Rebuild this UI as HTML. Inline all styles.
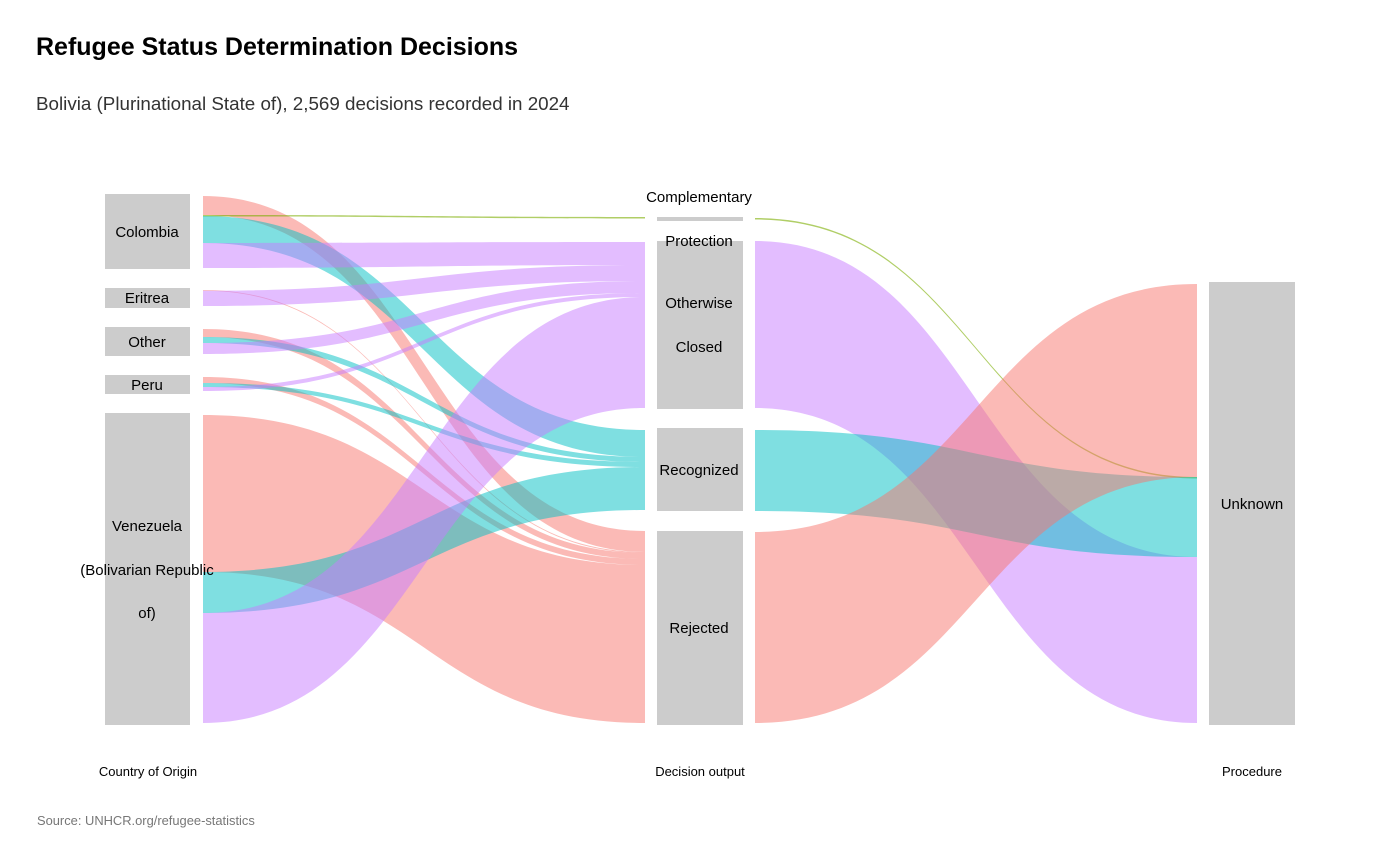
<!DOCTYPE html>
<html><head><style>
body{margin:0;background:#fff;}
svg{display:block;font-family:"Liberation Sans",sans-serif;}
</style></head><body>
<svg width="1400" height="865" viewBox="0 0 1400 865">
<text x="36" y="55" font-size="25" font-weight="bold" fill="#000">Refugee Status Determination Decisions</text>
<text x="36" y="110" font-size="18.8" fill="#333">Bolivia (Plurinational State of), 2,569 decisions recorded in 2024</text>
<g fill="#ccc">
<rect x="105" y="194" width="85" height="75"/>
<rect x="105" y="288" width="85" height="20"/>
<rect x="105" y="327" width="85" height="29"/>
<rect x="105" y="375" width="85" height="19"/>
<rect x="105" y="413" width="85" height="312"/>
<rect x="657" y="217" width="86" height="4"/>
<rect x="657" y="241" width="86" height="168"/>
<rect x="657" y="428" width="86" height="83"/>
<rect x="657" y="531" width="86" height="194"/>
<rect x="1209" y="282" width="86" height="443"/>
</g>
<g>
<path d="M203,196C424,196 424,531 645,531L645,552C424,552 424,215 203,215Z" fill="rgba(248,118,109,0.5)"/>
<path d="M203,215C424,215 424,217 645,217L645,218.5C424,218.5 424,216.5 203,216.5Z" fill="rgba(124,174,0,0.6)"/>
<path d="M203,216C424,216 424,430 645,430L645,457C424,457 424,243 203,243Z" fill="rgba(0,191,196,0.5)"/>
<path d="M203,243C424,243 424,242 645,242L645,265C424,265 424,268 203,268Z" fill="rgba(199,124,255,0.5)"/>
<path d="M203,290C424,290 424,552 645,552L645,553C424,553 424,290.8 203,290.8Z" fill="rgba(248,118,109,0.5)"/>
<path d="M203,290.8C424,290.8 424,265 645,265L645,281C424,281 424,306 203,306Z" fill="rgba(199,124,255,0.5)"/>
<path d="M203,329C424,329 424,553 645,553L645,559C424,559 424,337 203,337Z" fill="rgba(248,118,109,0.5)"/>
<path d="M203,337C424,337 424,457 645,457L645,462C424,462 424,343 203,343Z" fill="rgba(0,191,196,0.5)"/>
<path d="M203,343C424,343 424,281 645,281L645,293C424,293 424,354 203,354Z" fill="rgba(199,124,255,0.5)"/>
<path d="M203,377C424,377 424,559 645,559L645,565C424,565 424,383 203,383Z" fill="rgba(248,118,109,0.5)"/>
<path d="M203,383C424,383 424,462 645,462L645,467C424,467 424,387 203,387Z" fill="rgba(0,191,196,0.5)"/>
<path d="M203,387C424,387 424,293 645,293L645,297C424,297 424,391 203,391Z" fill="rgba(199,124,255,0.5)"/>
<path d="M203,415C424,415 424,565 645,565L645,723C424,723 424,572 203,572Z" fill="rgba(248,118,109,0.5)"/>
<path d="M203,572C424,572 424,467 645,467L645,510C424,510 424,613 203,613Z" fill="rgba(0,191,196,0.5)"/>
<path d="M203,613C424,613 424,297 645,297L645,408C424,408 424,723 203,723Z" fill="rgba(199,124,255,0.5)"/>
<path d="M755,218C976,218 976,477 1197,477L1197,478.5C976,478.5 976,219.5 755,219.5Z" fill="rgba(124,174,0,0.6)"/>
<path d="M755,241C976,241 976,557 1197,557L1197,723C976,723 976,408 755,408Z" fill="rgba(199,124,255,0.5)"/>
<path d="M755,430C976,430 976,477 1197,477L1197,557C976,557 976,511 755,511Z" fill="rgba(0,191,196,0.5)"/>
<path d="M755,532C976,532 976,284 1197,284L1197,477C976,477 976,723 755,723Z" fill="rgba(248,118,109,0.5)"/>
</g>
<g font-size="15" fill="#000" text-anchor="middle">
<text x="147" y="237">Colombia</text>
<text x="147" y="303">Eritrea</text>
<text x="147" y="347">Other</text>
<text x="147" y="390">Peru</text>
<text x="147" y="531">Venezuela</text>
<text x="147" y="575">(Bolivarian Republic</text>
<text x="147" y="618">of)</text>
<text x="699" y="202">Complementary</text>
<text x="699" y="246">Protection</text>
<text x="699" y="308">Otherwise</text>
<text x="699" y="352">Closed</text>
<text x="699" y="475">Recognized</text>
<text x="699" y="633">Rejected</text>
<text x="1252" y="509">Unknown</text>
</g>
<g font-size="13" fill="#000" text-anchor="middle">
<text x="148" y="776">Country of Origin</text>
<text x="700" y="776">Decision output</text>
<text x="1252" y="776">Procedure</text>
</g>
<text x="37" y="825" font-size="12.9" fill="#777">Source: UNHCR.org/refugee-statistics</text>
</svg>
</body></html>
